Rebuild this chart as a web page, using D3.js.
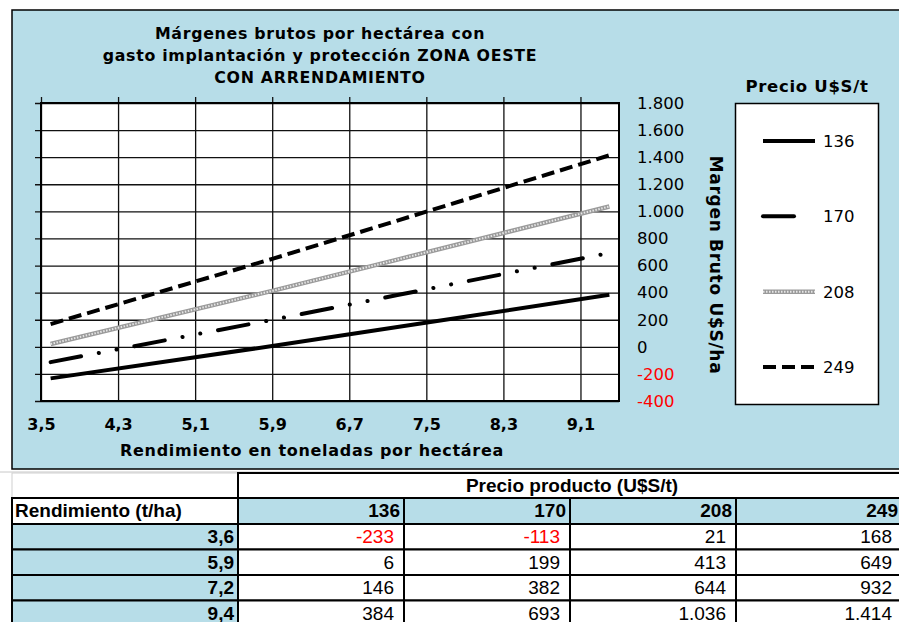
<!DOCTYPE html>
<html>
<head>
<meta charset="utf-8">
<script src="https://cdn.jsdelivr.net/npm/d3@7"></script>
<style>
  body { margin: 0; background: #fff; }
  svg { display: block; }
</style>
</head>
<body>
<script>
// datos de la tabla: margen bruto (U$S/ha) por rendimiento y precio
const yields = [3.6, 5.9, 7.2, 9.4]
const yieldLabels = ['3,6', '5,9', '7,2', '9,4']
const prices = [136, 170, 208, 249]
const margin136 = [-233, 6, 146, 384]
const margin170 = [-113, 199, 382, 693]
const margin208 = [21, 413, 644, 1036]
const margin249 = [168, 649, 932, 1414]
const xTicks = [3.5, 4.3, 5.1, 5.9, 6.7, 7.5, 8.3, 9.1]
const yTicks = [-400, -200, 0, 200, 400, 600, 800, 1000, 1200, 1400, 1600, 1800]
const titleLines = [
  'Márgenes brutos por hectárea con',
  'gasto implantación y protección ZONA OESTE',
  'CON ARRENDAMIENTO'
]

const margins = [margin136, margin170, margin208, margin249]
const blue = '#b7dde8'
const es = d3.formatLocale({ decimal: ',', thousands: '.', grouping: [3], currency: ['', ''], minus: '-' })
const fmtInt = es.format(',d')
const fmtDec = es.format('.1f')

const svg = d3.select('body').append('svg').attr('width', 899).attr('height', 622)

// fondo del grafico
svg.append('rect')
  .attr('x', 12).attr('y', 10).attr('width', 900).attr('height', 459)
  .attr('fill', blue).attr('stroke', '#000').attr('stroke-width', 1.5)

// titulo
svg.append('g').selectAll('text')
  .data(titleLines).enter().append('text')
  .attr('x', 320).attr('y', (d, i) => 39 + i * 22)
  .attr('text-anchor', 'middle')
  .style('font-family', 'DejaVu Sans').style('font-weight', 'bold')
  .style('font-size', '15.8px').style('letter-spacing', '0.7px')
  .text((d) => d)

const plotLeft = 41, plotTop = 103, plotW = 578, plotH = 298

const xScale = d3.scaleLinear().domain([3.5, 9.5]).range([plotLeft, plotLeft + plotW])
const yScale = d3.scaleLinear().domain([-400, 1800]).range([plotTop + plotH, plotTop])

svg.append('rect')
  .attr('x', plotLeft).attr('y', plotTop).attr('width', plotW).attr('height', plotH)
  .attr('fill', '#fff')

// grilla horizontal + marcas a la izquierda
const gy = svg.append('g')
  .attr('transform', `translate(${plotLeft},0)`)
  .call(d3.axisLeft(yScale).tickValues(yTicks).tickSize(-plotW).tickFormat(''))
gy.select('.domain').remove()
gy.selectAll('line').attr('x2', plotW).attr('x1', -6).attr('stroke', '#111').attr('stroke-width', 1.3)

// grilla vertical + marcas arriba
const gx = svg.append('g')
  .attr('transform', `translate(0,${plotTop})`)
  .call(d3.axisTop(xScale).tickValues(xTicks).tickSize(-plotH).tickFormat(''))
gx.select('.domain').remove()
gx.selectAll('line').attr('y2', plotH).attr('y1', -6).attr('stroke', '#111').attr('stroke-width', 1.3)

svg.append('rect')
  .attr('x', plotLeft).attr('y', plotTop).attr('width', plotW).attr('height', plotH)
  .attr('fill', 'none').attr('stroke', '#000').attr('stroke-width', 2)

// etiquetas eje Y (derecha)
const yAxis = svg.append('g')
  .attr('transform', `translate(${plotLeft + plotW},0)`)
  .call(d3.axisRight(yScale).tickValues(yTicks).tickSize(0).tickPadding(18).tickFormat(fmtInt))
yAxis.select('.domain').remove()
yAxis.selectAll('text')
  .style('font-family', 'DejaVu Sans').style('font-size', '16.5px')
  .attr('fill', (d) => (d < 0 ? '#f00' : '#000'))

// etiquetas eje X
const xAxis = svg.append('g')
  .attr('transform', `translate(0,${plotTop + plotH})`)
  .call(d3.axisBottom(xScale).tickValues(xTicks).tickSize(0).tickPadding(18).tickFormat(fmtDec))
xAxis.select('.domain').remove()
xAxis.selectAll('text')
  .style('font-family', 'DejaVu Sans').style('font-size', '16px').style('font-weight', 'bold')
  .attr('fill', '#000')

svg.append('text')
  .attr('x', 312).attr('y', 456).attr('text-anchor', 'middle')
  .style('font-family', 'DejaVu Sans').style('font-weight', 'bold')
  .style('font-size', '16px').style('letter-spacing', '0.7px')
  .text('Rendimiento en toneladas por hectárea')

svg.append('text')
  .attr('transform', 'translate(710,265) rotate(90)')
  .attr('text-anchor', 'middle')
  .style('font-family', 'DejaVu Sans').style('font-weight', 'bold')
  .style('font-size', '17px').style('letter-spacing', '0.7px')
  .text('Margen Bruto U$S/ha')

// estilos de linea por precio
const styles = [
  [{ stroke: '#000', width: 4, dash: null, cap: 'butt' }],
  [{ stroke: '#000', width: 4, dash: '31,18,0.1,18,0.1,18', cap: 'round' }],
  [{ stroke: '#9a9a9a', width: 4.5, dash: null, cap: 'butt' },
   { stroke: '#e6e6e6', width: 2, dash: '1.5,1.5', cap: 'butt' }],
  [{ stroke: '#000', width: 4, dash: '13,6', cap: 'butt' }]
]

const makeLine = d3.line().x((d) => xScale(d[0])).y((d) => yScale(d[1]))
const seriesData = margins.map((m) => yields.map((y, i) => [y, m[i]]))

seriesData.forEach(function (series, i) {
  styles[i].forEach(function (s) {
    svg.append('path')
      .attr('d', makeLine(series))
      .attr('fill', 'none')
      .attr('stroke', s.stroke)
      .attr('stroke-width', s.width)
      .attr('stroke-dasharray', s.dash)
      .attr('stroke-linecap', s.cap)
  })
})

// leyenda
svg.append('text')
  .attr('x', 807).attr('y', 92).attr('text-anchor', 'middle')
  .style('font-family', 'DejaVu Sans').style('font-weight', 'bold')
  .style('font-size', '16.5px').style('letter-spacing', '0.7px')
  .text('Precio U$S/t')

svg.append('rect')
  .attr('x', 735.5).attr('y', 103.5).attr('width', 143).attr('height', 301)
  .attr('fill', '#fff').attr('stroke', '#000').attr('stroke-width', 1.5)

const legendY = d3.scalePoint().domain(prices).range([141, 367])

prices.forEach(function (p, i) {
  const ly = legendY(p)
  styles[i].forEach(function (s) {
    svg.append('line')
      .attr('x1', 763).attr('x2', i === 1 ? 800 : 815).attr('y1', ly).attr('y2', ly)
      .attr('stroke', s.stroke)
      .attr('stroke-width', s.width)
      .attr('stroke-dasharray', s.dash)
      .attr('stroke-linecap', s.cap)
  })
  svg.append('text')
    .attr('x', 823).attr('y', ly).attr('dy', '0.36em')
    .style('font-family', 'DejaVu Sans').style('font-size', '16.5px')
    .text(p)
})

// tabla
const tableFont = 'Liberation Sans'
const colX = d3.scaleBand().domain(prices).range([238, 902])
const rowY = d3.scaleBand().domain(yieldLabels).range([524, 626])
const headTop = 473, headMid = 498

svg.append('line')
  .attr('x1', 0).attr('x2', 899).attr('y1', 472).attr('y2', 472)
  .attr('stroke', '#c8c8c8').attr('stroke-width', 1)
svg.append('rect')
  .attr('x', 12).attr('y', headTop).attr('width', 226).attr('height', headMid - headTop)
  .attr('fill', '#fff').attr('stroke', '#d0d0d0').attr('stroke-width', 1)
svg.append('rect')
  .attr('x', 238).attr('y', headTop).attr('width', 664).attr('height', headMid - headTop)
  .attr('fill', '#fff').attr('stroke', '#000').attr('stroke-width', 2)
svg.append('text')
  .attr('x', 572).attr('y', headTop + 19).attr('text-anchor', 'middle')
  .style('font-family', tableFont).style('font-weight', 'bold').style('font-size', '19px')
  .text('Precio producto (U$S/t)')

svg.append('rect')
  .attr('x', 12).attr('y', headMid).attr('width', 226).attr('height', 26)
  .attr('fill', '#fff').attr('stroke', '#000').attr('stroke-width', 2)
svg.append('text')
  .attr('x', 15).attr('y', headMid + 19)
  .style('font-family', tableFont).style('font-weight', 'bold').style('font-size', '19px')
  .text('Rendimiento (t/ha)')

prices.forEach(function (p) {
  svg.append('rect')
    .attr('x', colX(p)).attr('y', headMid).attr('width', colX.bandwidth()).attr('height', 26)
    .attr('fill', blue).attr('stroke', '#000').attr('stroke-width', 2)
  svg.append('text')
    .attr('x', colX(p) + colX.bandwidth() - 4).attr('y', headMid + 19)
    .attr('text-anchor', 'end')
    .style('font-family', tableFont).style('font-weight', 'bold').style('font-size', '19px')
    .text(p)
})

yieldLabels.forEach(function (lab, r) {
  const ry = rowY(lab)
  svg.append('rect')
    .attr('x', 12).attr('y', ry).attr('width', 226).attr('height', rowY.bandwidth())
    .attr('fill', blue).attr('stroke', '#000').attr('stroke-width', 2)
  svg.append('text')
    .attr('x', 234).attr('y', ry + 19).attr('text-anchor', 'end')
    .style('font-family', tableFont).style('font-weight', 'bold').style('font-size', '19px')
    .text(lab)
  prices.forEach(function (p, c) {
    const v = margins[c][r]
    svg.append('rect')
      .attr('x', colX(p)).attr('y', ry).attr('width', colX.bandwidth()).attr('height', rowY.bandwidth())
      .attr('fill', '#fff').attr('stroke', '#000').attr('stroke-width', 2)
    svg.append('text')
      .attr('x', colX(p) + colX.bandwidth() - 10).attr('y', ry + 19)
      .attr('text-anchor', 'end')
      .attr('fill', v < 0 ? '#f00' : '#000')
      .style('font-family', tableFont).style('font-size', '19px')
      .text(fmtInt(v))
  })
})
</script>
</body>
</html>
